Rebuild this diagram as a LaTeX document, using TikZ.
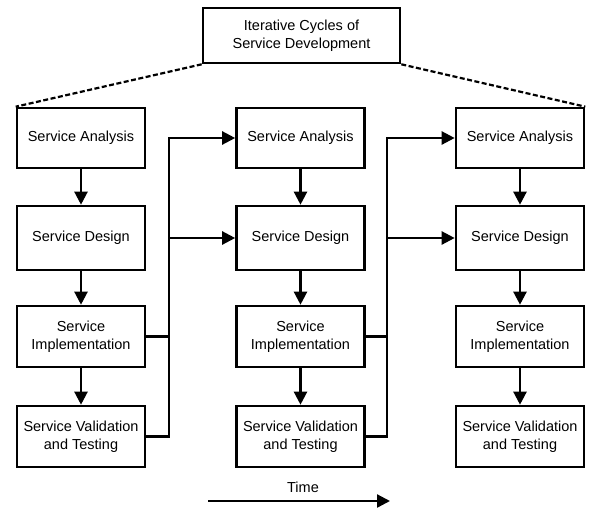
\documentclass[tikz,border=0pt]{standalone}
\usepackage{fontspec}
\setmainfont{Liberation Sans}
\usetikzlibrary{arrows.meta}
\begin{document}
\begin{tikzpicture}[x=1pt,y=-1pt,
  stagebox/.style={draw, line width=2.6pt, minimum width=128pt, minimum height=61pt,
    inner sep=1pt, align=center, font=\fontsize{14.5}{18}\selectfont},
  titlebox/.style={stagebox, minimum width=197pt, minimum height=55pt},
  flow/.style={line width=2.3pt, -{Triangle[length=13pt,width=13pt]}},
  link/.style={line width=2.3pt},
  dashlink/.style={line width=2.2pt, dash pattern=on 5pt off 2.5pt},
  lbl/.style={font=\fontsize{14.5}{18}\selectfont}]
\useasboundingbox (0,0) rectangle (589,507);

% overall title
\node[titlebox] (top) at (301.5,35.5) {Iterative Cycles of\\Service Development};

% three iterations, one column each
\foreach \c/\x in {1/81, 2/300.5, 3/520} {
  \node[stagebox, minimum height=60pt] (a\c) at (\x,138)   {Service Analysis};
  \node[stagebox, minimum height=64pt] (d\c) at (\x,238)   {Service Design};
  \node[stagebox] (i\c) at (\x,336.5) {Service\\Implementation};
  \node[stagebox] (v\c) at (\x,436.5) {Service Validation\\and Testing};
  \draw[flow] (a\c) -- (d\c);
  \draw[flow] (d\c) -- (i\c);
  \draw[flow] (i\c) -- (v\c);
}

% title spans all iterations
\draw[dashlink] (top.south west) -- (a1.north west);
\draw[dashlink] (top.south east) -- (a3.north east);

% feedback into the next iteration
\coordinate (j1) at (169,0);
\coordinate (j2) at (387,0);
\draw[flow] (v1.east) -| (j1 |- a2.west) -- (a2.west);
\draw[link] (i1.east) -- (j1 |- i1.east);
\draw[flow] (j1 |- d2.west) -- (d2.west);
\draw[flow] (v2.east) -| (j2 |- a3.west) -- (a3.west);
\draw[link] (i2.east) -- (j2 |- i2.east);
\draw[flow] (j2 |- d3.west) -- (d3.west);

% time axis
\coordinate (t0) at (208,501);
\coordinate (t1) at (390,501);
\draw[flow] (t0) -- (t1);
\node[lbl] (time) at (303,487) {Time};
\end{tikzpicture}
\end{document}
